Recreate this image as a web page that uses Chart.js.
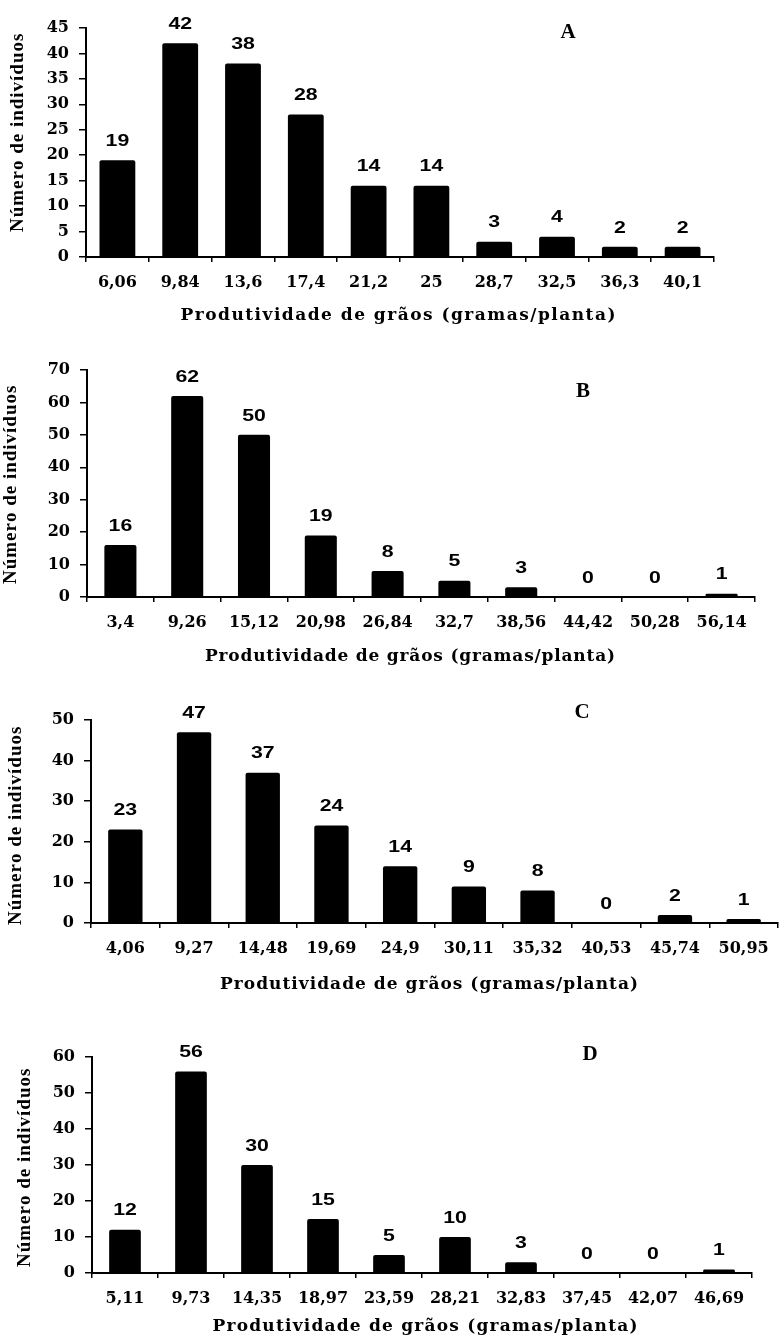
<!DOCTYPE html>
<html>
<head>
<meta charset="utf-8">
<script src="https://cdn.jsdelivr.net/npm/chart.js@4.4.1/dist/chart.umd.min.js"></script>
<style>
  body { margin: 0; background: #fff; width: 781px; height: 1339px; position: relative; overflow: hidden; }
  .painel { position: absolute; left: 0; width: 781px; }
</style>
</head>
<body>
<div class="painel" style="top:0;height:335px"><canvas id="grafA"></canvas></div>
<div class="painel" style="top:335px;height:330px"><canvas id="grafB"></canvas></div>
<div class="painel" style="top:665px;height:332px"><canvas id="grafC"></canvas></div>
<div class="painel" style="top:997px;height:342px"><canvas id="grafD"></canvas></div>
<script>
// dados
const classesA = ['6,06', '9,84', '13,6', '17,4', '21,2', '25', '28,7', '32,5', '36,3', '40,1'];
const valoresA = [19, 42, 38, 28, 14, 14, 3, 4, 2, 2];
const classesB = ['3,4', '9,26', '15,12', '20,98', '26,84', '32,7', '38,56', '44,42', '50,28', '56,14'];
const valoresB = [16, 62, 50, 19, 8, 5, 3, 0, 0, 1];
const classesC = ['4,06', '9,27', '14,48', '19,69', '24,9', '30,11', '35,32', '40,53', '45,74', '50,95'];
const valoresC = [23, 47, 37, 24, 14, 9, 8, 0, 2, 1];
const classesD = ['5,11', '9,73', '14,35', '18,97', '23,59', '28,21', '32,83', '37,45', '42,07', '46,69'];
const valoresD = [12, 56, 30, 15, 5, 10, 3, 0, 0, 1];

const tituloX = 'Produtividade de grãos (gramas/planta)';
const tituloY = 'Número de indivíduos';

// desenha texto com espaçamento para ocupar uma largura
function textoEspacado(ctx, texto, cx, cy, largura) {
    const w0 = ctx.measureText(texto).width;
    const esp = (largura - w0) / (texto.length - 1);
    let x = cx - largura / 2;
    ctx.textAlign = 'left';
    for (const c of texto) {
        ctx.fillText(c, x, cy);
        x += ctx.measureText(c).width + esp;
    }
}

const rotulosPlugin = {
    id: 'rotulos',
    afterDatasetsDraw(chart, args, opts) {
        const ctx = chart.ctx;
        const meta = chart.getDatasetMeta(0);
        const dados = chart.data.datasets[0].data;
        ctx.save();
        ctx.fillStyle = '#000';
        ctx.textBaseline = 'middle';
        ctx.textAlign = 'center';
        ctx.font = 'bold 17px "Liberation Sans", Arial, sans-serif';
        meta.data.forEach((barra, i) => {
            ctx.save();
            ctx.translate(barra.x, barra.y - 19);
            ctx.scale(1.25, 1);
            ctx.fillText(String(dados[i]), 0, 0);
            ctx.restore();
        });

        // letra do painel
        ctx.font = 'bold 21px "Liberation Serif", "Times New Roman", serif';
        ctx.fillText(opts.letra, opts.letraX, opts.letraY);

        // título do eixo x
        ctx.font = 'bold 17px "DejaVu Serif", serif';
        textoEspacado(ctx, tituloX, opts.tituloX, opts.tituloXy, opts.tituloXlarg);

        // título do eixo y
        ctx.save();
        ctx.translate(opts.tituloYx, opts.tituloYy);
        ctx.rotate(-Math.PI / 2);
        ctx.font = 'bold 19px "Liberation Serif", "Times New Roman", serif';
        textoEspacado(ctx, tituloY, 0, 0, 198);
        ctx.restore();

        ctx.restore();
    }
};

const fonteEixo = { family: '"DejaVu Serif", serif', weight: 'bold', size: 16 };

function criarGrafico(id, classes, valores, maxY, passo, cfg) {
    new Chart(document.getElementById(id).getContext('2d'), {
        type: 'bar',
        data: {
            labels: classes,
            datasets: [{
                data: valores,
                backgroundColor: '#000',
                borderRadius: 2,
                barPercentage: cfg.barra,
                categoryPercentage: 1
            }]
        },
        options: {
            responsive: true,
            maintainAspectRatio: false,
            animation: false,
            layout: { padding: { top: cfg.topo, right: cfg.direita, left: 0, bottom: 0 } },
            plugins: {
                legend: { display: false },
                tooltip: { enabled: false },
                rotulos: cfg.textos
            },
            scales: {
                x: {
                    grid: { drawOnChartArea: false, offset: true, color: '#000', tickLength: 5, lineWidth: 1.5 },
                    border: { color: '#000', width: 2 },
                    ticks: { color: '#000', font: fonteEixo, padding: 11, maxRotation: 0, autoSkip: false },
                    afterFit: (s) => { s.height = cfg.alturaX; }
                },
                y: {
                    min: 0,
                    max: maxY,
                    grid: { drawOnChartArea: false, color: '#000', tickLength: 7, lineWidth: 1.5 },
                    border: { color: '#000', width: 2 },
                    ticks: { stepSize: passo, color: '#000', font: fonteEixo, padding: 10 },
                    afterFit: (s) => { s.width = cfg.esquerda; }
                }
            }
        },
        plugins: [rotulosPlugin]
    });
}

criarGrafico('grafA', classesA, valoresA, 45, 5, {
    barra: 0.57, topo: 28, direita: 67, esquerda: 86, alturaX: 78,
    textos: { letra: 'A', letraX: 568, letraY: 33, tituloX: 398, tituloXy: 316, tituloXlarg: 435, tituloYx: 18, tituloYy: 133 }
});
criarGrafico('grafB', classesB, valoresB, 70, 10, {
    barra: 0.48, topo: 35, direita: 26, esquerda: 87, alturaX: 68,
    textos: { letra: 'B', letraX: 583, letraY: 57, tituloX: 410, tituloXy: 322, tituloXlarg: 410, tituloYx: 11, tituloYy: 150 }
});
criarGrafico('grafC', classesC, valoresC, 50, 10, {
    barra: 0.5, topo: 55, direita: 3, esquerda: 91, alturaX: 74,
    textos: { letra: 'C', letraX: 582, letraY: 48, tituloX: 429, tituloXy: 320, tituloXlarg: 418, tituloYx: 16, tituloYy: 161 }
});
criarGrafico('grafD', classesD, valoresD, 60, 10, {
    barra: 0.48, topo: 60, direita: 29, esquerda: 92, alturaX: 66,
    textos: { letra: 'D', letraX: 590, letraY: 58, tituloX: 425, tituloXy: 330, tituloXlarg: 425, tituloYx: 25, tituloYy: 171 }
});
</script>
</body>
</html>
